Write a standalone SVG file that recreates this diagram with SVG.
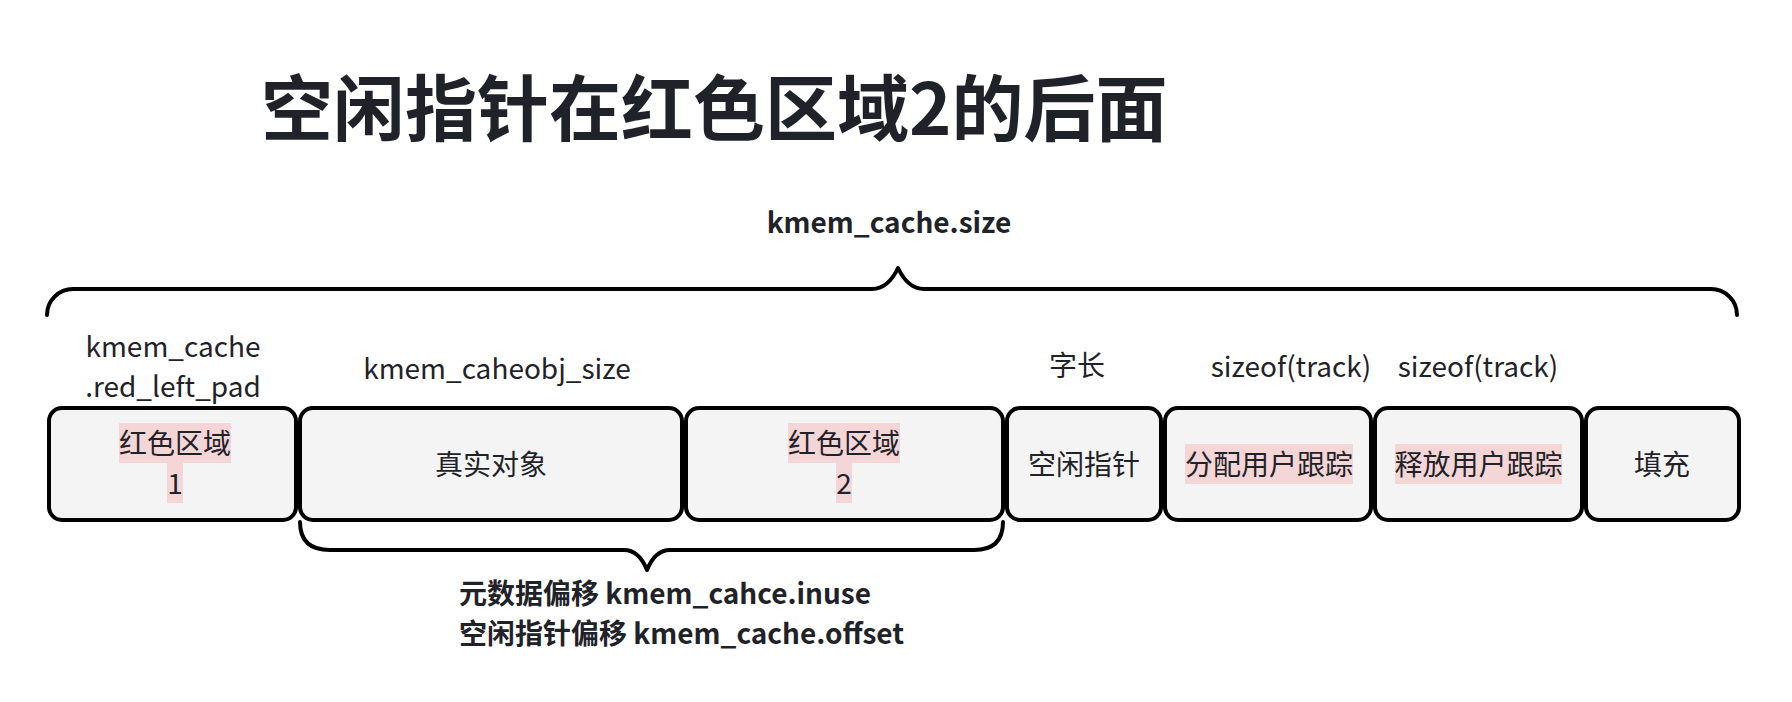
<svg xmlns="http://www.w3.org/2000/svg" width="1792" height="702" viewBox="0 0 1792 702">
<style>
text{font-family:"Noto Sans CJK SC","Noto Sans",sans-serif;fill:#1f2329}
.title{font-size:72px;font-weight:bold}
.bold{font-size:28px;font-weight:bold}
.lbl{font-size:28px;text-anchor:middle}
.box{fill:#f4f4f4;stroke:#000;stroke-width:4}
.bt{font-size:28px;text-anchor:middle}
.hl{fill:#f4d6d7}
.brace{fill:none;stroke:#000;stroke-width:4;stroke-linejoin:round;stroke-linecap:round}
</style>
<rect width="1792" height="702" fill="#fff"/>
<text class="title" x="261" y="135">空闲指针在红色区域2的后面</text>
<text class="bold" x="889" y="233" text-anchor="middle">kmem_cache.size</text>

<g id="labels">
<text class="lbl" x="173" y="357">kmem_cache</text>
<text class="lbl" x="173" y="397">.red_left_pad</text>
<text class="lbl" x="497" y="379">kmem_caheobj_size</text>
<text class="lbl" x="1077" y="376">字长</text>
<text class="lbl" x="1291" y="377">sizeof(track)</text>
<text class="lbl" x="1478" y="377">sizeof(track)</text>
</g>

<g id="connectors">
<path class="brace" d="M 47 315 A 26 26 0 0 1 73 289 H 872 Q 888 289 898 268 Q 908 289 924 289 H 1711 A 26 26 0 0 1 1737 315"/>
<path class="brace" d="M 300 522 Q 300 550 330 550 H 624 Q 639 550 647 570 Q 655 550 670 550 H 974 Q 1003 550 1003 522"/>
</g>

<g id="box1">
<rect class="box" x="49" y="408" width="247" height="112" rx="13"/>
<rect class="hl" x="119" y="423" width="112" height="40"/>
<rect class="hl" x="167" y="463" width="16" height="40"/>
<text class="bt" x="175" y="454">红色区域</text>
<text class="bt" x="175" y="494">1</text>
</g>
<g id="box2">
<rect class="box" x="300" y="408" width="382" height="112" rx="13"/>
<text class="bt" x="491" y="475">真实对象</text>
</g>
<g id="box3">
<rect class="box" x="686" y="408" width="317" height="112" rx="13"/>
<rect class="hl" x="788" y="423" width="112" height="40"/>
<rect class="hl" x="836" y="463" width="16" height="40"/>
<text class="bt" x="844" y="454">红色区域</text>
<text class="bt" x="844" y="494">2</text>
</g>
<g id="box4">
<rect class="box" x="1007" y="408" width="154" height="112" rx="13"/>
<text class="bt" x="1084" y="475">空闲指针</text>
</g>
<g id="box5">
<rect class="box" x="1165" y="408" width="206" height="112" rx="13"/>
<rect class="hl" x="1185" y="444" width="168" height="40"/>
<text class="bt" x="1269" y="475">分配用户跟踪</text>
</g>
<g id="box6">
<rect class="box" x="1375" y="408" width="207" height="112" rx="13"/>
<rect class="hl" x="1395" y="444" width="167" height="40"/>
<text class="bt" x="1478.5" y="475">释放用户跟踪</text>
</g>
<g id="box7">
<rect class="box" x="1586" y="408" width="153" height="112" rx="13"/>
<text class="bt" x="1662" y="475">填充</text>
</g>

<g id="bottom-label">
<text class="bold" x="459" y="604">元数据偏移 kmem_cahce.inuse</text>
<text class="bold" x="459" y="644">空闲指针偏移 kmem_cache.offset</text>
</g>
</svg>
